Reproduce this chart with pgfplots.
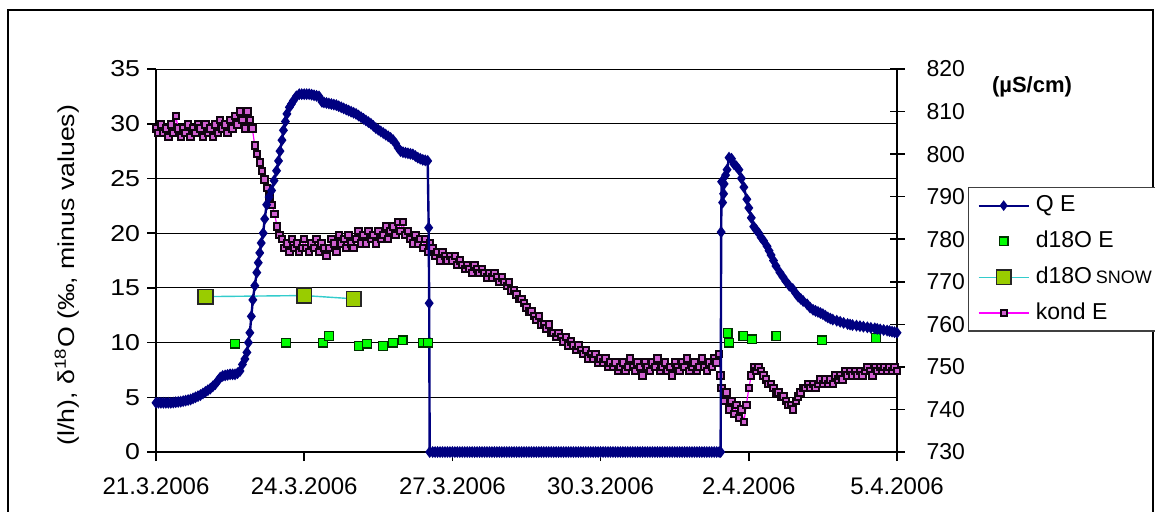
\documentclass[border=0pt]{standalone}
\usepackage{fontspec}
\setmainfont{Liberation Sans}
\newfontfamily\widefont{Liberation Sans}[FakeStretch=1.16]
\usepackage{pgfplots}
\pgfplotsset{compat=1.18}
\definecolor{qblue}{HTML}{000080}
\definecolor{dgreen}{HTML}{00FF00}
\definecolor{snowfill}{HTML}{99CC00}
\definecolor{snowline}{HTML}{33CCCC}
\definecolor{kondline}{HTML}{FF00FF}
\definecolor{kondfill}{HTML}{D060D0}
\definecolor{konddraw}{HTML}{100410}
\pgfplotsset{
  myaxis/.style={
    scale only axis, width=370.5pt, height=191.5pt,
    at={(78pt,-226pt)}, anchor=south west,
    xmin=0, xmax=15, clip=false,
    /pgf/number format/assume math mode=true,
    axis line style={-, black, line width=0.8pt},
    tick style={black, line width=0.8pt},
    yticklabel style={font=\fontsize{11.5}{13}\selectfont},
    xticklabel style={font=\fontsize{12}{14}\selectfont, yshift=-5pt},
  },
  legend image code/.code={\draw[mark repeat=2, mark phase=2, #1] plot coordinates {(0pt,0pt) (12.5pt,0pt) (25pt,0pt)};},
}
\begin{document}
\begin{tikzpicture}
\draw[black, line width=0.8pt] (4pt,-5pt) rectangle (576.5pt,-262pt);
% left axis with grid
\begin{axis}[myaxis, ymin=0, ymax=35,
  axis x line*=bottom, axis y line*=left,
  xtick={0,3,6,9,12,15},
  xticklabels={21.3.2006,24.3.2006,27.3.2006,30.3.2006,2.4.2006,5.4.2006},
  ytick={0,5,...,35},
  yticklabel style={font=\widefont\fontsize{11.5}{13}\selectfont},
  ymajorgrids, major grid style={black, line width=0.5pt},
  tick align=outside, major tick length=4.5pt]
\end{axis}
% right axis: conductivity
\begin{axis}[myaxis, ymin=730, ymax=820,
  axis y line*=right, axis x line=none,
  ytick={730,740,...,820},
  yticklabel style={xshift=7.5pt},
  tick align=center, major tick length=7.5pt]
\addplot[kondline, line width=0.6pt, mark=square*, mark size=1.6pt,
  mark options={fill=kondfill, draw=konddraw, line width=1pt, solid}] coordinates {
(0.00,806) (0.05,805) (0.10,807) (0.15,805) (0.20,806) (0.25,804) (0.30,807) (0.35,805) (0.40,809) (0.45,806)
(0.50,804) (0.55,806) (0.60,805) (0.65,807) (0.70,804) (0.75,806) (0.80,805) (0.85,807) (0.90,806) (0.95,804)
(1.00,807) (1.05,805) (1.10,806) (1.15,804) (1.20,807) (1.25,805) (1.30,808) (1.35,806)
(1.40,807) (1.45,805) (1.50,808) (1.55,806) (1.60,809) (1.65,807) (1.70,810) (1.75,808) (1.80,806) (1.85,810) (1.90,808)
(1.95,806) (2.00,802) (2.05,800) (2.10,798) (2.15,796) (2.20,794) (2.25,792) (2.30,790) (2.35,788) (2.40,786) (2.45,783) (2.50,781)
(2.55,780) (2.60,778) (2.65,779) (2.70,777) (2.75,780) (2.80,778) (2.85,779) (2.90,777) (2.95,778) (3.00,780)
(3.05,778) (3.10,777) (3.15,779) (3.20,778) (3.25,780) (3.30,777) (3.35,779) (3.40,778) (3.45,776)
(3.50,778) (3.55,780) (3.60,779) (3.65,777) (3.70,781) (3.75,779) (3.80,780) (3.85,778) (3.90,781) (3.95,779)
(4.00,778) (4.05,780) (4.10,782) (4.15,779) (4.20,781) (4.25,779) (4.30,782) (4.35,780) (4.40,781) (4.45,779)
(4.50,782) (4.55,780) (4.60,781) (4.65,783) (4.70,780) (4.75,782)
(4.80,783) (4.85,781) (4.90,784) (4.95,782) (5.00,784) (5.05,781)
(5.10,782) (5.15,780) (5.20,779) (5.25,781) (5.30,779) (5.35,780) (5.40,778) (5.45,780) (5.50,777)
(5.55,779) (5.60,778) (5.65,776) (5.70,777) (5.75,775) (5.80,777) (5.85,776) (5.90,775) (5.95,776) (6.00,775)
(6.05,776) (6.10,774) (6.15,775) (6.20,774) (6.25,773) (6.30,774) (6.35,773) (6.40,772) (6.45,774) (6.50,773)
(6.55,772) (6.60,773) (6.65,772) (6.70,771) (6.75,772) (6.80,771) (6.85,772) (6.90,771) (6.95,770) (7.00,771)
(7.05,770) (7.10,769) (7.15,770) (7.20,768) (7.25,768) (7.30,767) (7.35,766) (7.40,766) (7.45,765) (7.50,764)
(7.55,763) (7.60,763) (7.65,762) (7.70,761) (7.75,762) (7.80,760) (7.85,760) (7.90,759) (7.95,760) (8.00,758)
(8.05,758) (8.10,757) (8.15,758) (8.20,757) (8.25,756) (8.30,757) (8.35,755) (8.40,756) (8.45,755) (8.50,754)
(8.55,755) (8.60,754) (8.65,753) (8.70,754) (8.75,752) (8.80,753) (8.85,752) (8.90,753) (8.95,751) (9.00,752)
(9.05,751) (9.10,752) (9.15,750) (9.20,751) (9.25,750) (9.30,751)
(9.35,749) (9.40,750) (9.45,751) (9.50,749) (9.55,750) (9.60,752) (9.65,750) (9.70,749) (9.75,751) (9.80,750)
(9.85,748) (9.90,751) (9.95,750) (10.00,749) (10.05,751) (10.10,750) (10.15,752) (10.20,749) (10.25,750) (10.30,751)
(10.35,749) (10.40,750) (10.45,748) (10.50,751) (10.55,750) (10.60,749) (10.65,751) (10.70,750) (10.75,752) (10.80,749)
(10.85,750) (10.90,751) (10.95,749) (11.00,750) (11.05,752) (11.10,750) (11.15,749) (11.20,751) (11.25,750) (11.30,752)
(11.35,751) (11.40,753)
(11.43,748) (11.45,745) (11.50,742) (11.55,744) (11.60,740) (11.65,742) (11.70,739) (11.75,741) (11.80,738) (11.85,740)
(11.90,737) (11.95,741) (12.00,745) (12.05,748) (12.10,750) (12.15,749) (12.20,750) (12.25,749) (12.30,748) (12.35,747)
(12.40,746) (12.45,746) (12.50,745) (12.55,744) (12.60,744) (12.65,743) (12.70,743) (12.75,742) (12.80,741) (12.85,741)
(12.90,740) (12.95,742) (13.00,743) (13.05,744) (13.10,745) (13.15,745) (13.20,746) (13.25,745) (13.30,746) (13.35,745)
(13.40,746) (13.45,747) (13.50,746) (13.55,747) (13.60,746) (13.65,747) (13.70,746) (13.75,748) (13.80,747) (13.85,748)
(13.90,747) (13.95,749) (14.00,748) (14.05,749) (14.10,748) (14.15,749) (14.20,748) (14.25,749) (14.30,748) (14.35,749)
(14.40,750) (14.45,749) (14.50,748) (14.55,750) (14.60,749) (14.65,750) (14.70,749) (14.75,750) (14.80,749) (14.85,750)
(14.90,749) (14.95,750) (15.00,749)
};
\end{axis}
% hidden axis: discharge and isotopes on top
\begin{axis}[myaxis, ymin=0, ymax=35, hide axis,
  legend style={at={(1.0958,0.6919)}, anchor=north west,
    draw=black!75, line width=0.6pt, fill=white,
    font=\fontsize{11.5}{13}\selectfont,
    inner xsep=4.5pt, inner ysep=3pt,
    nodes={inner sep=0pt, text height=9pt, text depth=3pt},
    row sep=5.9pt,
    /tikz/every odd column/.append style={column sep=3pt}},
  legend cell align=left]
\addplot[forget plot, only marks, mark=square*, mark size=2.2pt,
  mark options={fill=dgreen, draw=black!80!green, line width=0.6pt}] coordinates {
(1.60,9.9) (2.63,10.0) (3.38,10.0) (3.50,10.6) (4.10,9.7) (4.27,9.9) (4.60,9.7) (4.80,10.0)
(4.99,10.2) (5.40,10.0) (5.51,10.0) (11.57,10.9) (11.60,10.0) (11.89,10.6) (12.06,10.3)
(12.56,10.6) (13.48,10.2) (14.57,10.4)
};
\addplot[forget plot, snowline, line width=0.7pt, mark=square*, mark size=3.7pt,
  mark options={fill=snowfill, draw=black!85, line width=0.7pt}] coordinates {
(1,14.2) (3,14.3) (4,14.0)
};
\addplot[forget plot, qblue, line width=1.2pt, mark=diamond*, mark size=2pt,
  mark options={fill=qblue, draw=qblue}] coordinates {
(0.0,4.5) (0.05,4.5) (0.1,4.5) (0.15,4.5) (0.2,4.5) (0.25,4.5) (0.3,4.5) (0.35,4.52) (0.4,4.55) (0.45,4.58)
(0.5,4.6) (0.55,4.65) (0.6,4.7) (0.65,4.75) (0.7,4.8) (0.75,4.9) (0.8,5.0) (0.85,5.1) (0.9,5.2) (0.95,5.35)
(1.0,5.5) (1.05,5.65) (1.1,5.8) (1.15,6.0) (1.2,6.2) (1.25,6.5) (1.3,6.8) (1.35,6.95) (1.4,7.0) (1.45,7.05)
(1.5,7.1) (1.55,7.1) (1.6,7.1) (1.65,7.2) (1.7,7.4) (1.75,8.0) (1.8,8.5)
(1.84,9.1) (1.87,10.0) (1.9,10.9) (1.93,12.4) (1.96,13.9) (2.0,15.2) (2.04,16.4) (2.07,17.3) (2.1,18.2) (2.13,19.1) (2.17,20.0) (2.2,21.3)
(2.24,22.6) (2.29,23.3) (2.34,23.9) (2.39,24.8) (2.44,25.7) (2.48,26.6) (2.51,27.5) (2.55,28.5) (2.58,29.4) (2.62,30.2)
(2.65,30.9) (2.7,31.5) (2.74,31.8) (2.78,32.1) (2.84,32.5) (2.9,32.7) (2.95,32.7) (3.0,32.7) (3.05,32.7) (3.1,32.7) (3.15,32.65) (3.2,32.6) (3.25,32.55) (3.3,32.5) (3.36,32.0)
(3.4,31.95) (3.45,31.9) (3.5,31.85) (3.55,31.8) (3.6,31.75) (3.65,31.7) (3.7,31.6) (3.75,31.5) (3.8,31.4) (3.85,31.3) (3.9,31.2) (3.95,31.1) (4.0,31.0) (4.05,30.9) (4.1,30.75) (4.15,30.6) (4.2,30.45) (4.25,30.3) (4.3,30.15) (4.35,30.0)
(4.4,29.8) (4.45,29.6) (4.5,29.45) (4.55,29.3) (4.6,29.15) (4.65,29.0) (4.7,28.85) (4.75,28.7) (4.8,28.5) (4.85,28.2) (4.9,27.8) (4.95,27.5) (5.0,27.4) (5.05,27.35) (5.1,27.3) (5.15,27.25) (5.2,27.2) (5.25,27.05)
(5.3,26.9) (5.35,26.8) (5.4,26.7) (5.45,26.65) (5.5,26.6) (5.52,20.5) (5.53,13.6) (5.54,0)
(5.6,0) (5.65,0) (5.7,0) (5.75,0) (5.8,0) (5.85,0) (5.9,0) (5.95,0) (6.0,0) (6.05,0) (6.1,0) (6.15,0) (6.2,0) (6.25,0) (6.3,0) (6.35,0) (6.4,0) (6.45,0) (6.5,0) (6.55,0)
(6.6,0) (6.65,0) (6.7,0) (6.75,0) (6.8,0) (6.85,0) (6.9,0) (6.95,0) (7.0,0) (7.05,0) (7.1,0) (7.15,0) (7.2,0) (7.25,0) (7.3,0) (7.35,0) (7.4,0) (7.45,0) (7.5,0) (7.55,0)
(7.6,0) (7.65,0) (7.7,0) (7.75,0) (7.8,0) (7.85,0) (7.9,0) (7.95,0) (8.0,0) (8.05,0) (8.1,0) (8.15,0) (8.2,0) (8.25,0) (8.3,0) (8.35,0) (8.4,0) (8.45,0) (8.5,0) (8.55,0)
(8.6,0) (8.65,0) (8.7,0) (8.75,0) (8.8,0) (8.85,0) (8.9,0) (8.95,0) (9.0,0) (9.05,0) (9.1,0) (9.15,0) (9.2,0) (9.25,0) (9.3,0) (9.35,0) (9.4,0) (9.45,0) (9.5,0) (9.55,0)
(9.6,0) (9.65,0) (9.7,0) (9.75,0) (9.8,0) (9.85,0) (9.9,0) (9.95,0) (10.0,0) (10.05,0) (10.1,0) (10.15,0) (10.2,0) (10.25,0) (10.3,0) (10.35,0) (10.4,0) (10.45,0) (10.5,0) (10.55,0)
(10.6,0) (10.65,0) (10.7,0) (10.75,0) (10.8,0) (10.85,0) (10.9,0) (10.95,0) (11.0,0) (11.05,0) (11.1,0) (11.15,0) (11.2,0) (11.25,0) (11.3,0) (11.35,0) (11.4,0) (11.43,0)
(11.44,20.1) (11.45,24.7) (11.47,22.8) (11.49,23.6) (11.5,24.5) (11.53,25.3) (11.56,25.8) (11.6,26.9) (11.65,26.8) (11.7,26.3)
(11.75,26.1) (11.8,25.8) (11.85,25.0) (11.9,24.2) (11.96,23.1) (12.0,22.3) (12.05,21.4) (12.1,20.6) (12.15,20.3) (12.2,20.0) (12.25,19.6) (12.3,19.3)
(12.37,18.8) (12.41,18.4) (12.45,18.0) (12.5,17.5) (12.55,17.0) (12.63,16.4) (12.69,16.0) (12.75,15.6) (12.82,15.2) (12.89,14.9) (12.95,14.5) (13.0,14.2) (13.05,14.0) (13.1,13.8) (13.18,13.5) (13.24,13.2) (13.3,13.0)
(13.35,12.9) (13.4,12.8) (13.45,12.7) (13.5,12.6) (13.55,12.45) (13.6,12.3) (13.65,12.2) (13.7,12.1) (13.78,12.0) (13.85,11.9) (13.92,11.8) (14.0,11.7) (14.05,11.65) (14.1,11.6) (14.18,11.55) (14.25,11.5) (14.32,11.45) (14.4,11.4) (14.47,11.35) (14.55,11.3)
(14.6,11.25) (14.66,11.2) (14.73,11.15) (14.8,11.1) (14.85,11.05) (14.9,11.0) (14.95,10.95) (15.0,10.9)
};
\addlegendimage{qblue, line width=1.1pt, mark=diamond*, mark size=1.8pt, mark options={fill=qblue}}
\addlegendentry{Q E}
\addlegendimage{only marks, mark=square*, mark size=2.2pt, mark options={fill=dgreen, draw=black!80!green, line width=0.6pt}}
\addlegendentry{d18O E}
\addlegendimage{snowline, line width=0.7pt, mark=square*, mark size=3.7pt, mark options={fill=snowfill, draw=black!85, line width=0.7pt}}
\addlegendentry{d18O\,{\fontsize{9}{10}\selectfont SNOW}}
\addlegendimage{kondline, line width=0.6pt, mark=square*, mark size=1.5pt, mark options={fill=kondfill, draw=konddraw, line width=0.9pt}}
\addlegendentry{kond E}
\end{axis}
\node[font=\bfseries\fontsize{11}{13}\selectfont] at (516pt,-43.5pt) {(µS/cm)};
\node[rotate=90, font=\widefont\fontsize{11.5}{13}\selectfont] at (33.5pt,-137.5pt) {(l/h), δ\textsuperscript{18}O (‰, minus values)};
\pgfresetboundingbox
\useasboundingbox (0pt,0pt) rectangle (577.5pt,-255.5pt);
\end{tikzpicture}
\end{document}
